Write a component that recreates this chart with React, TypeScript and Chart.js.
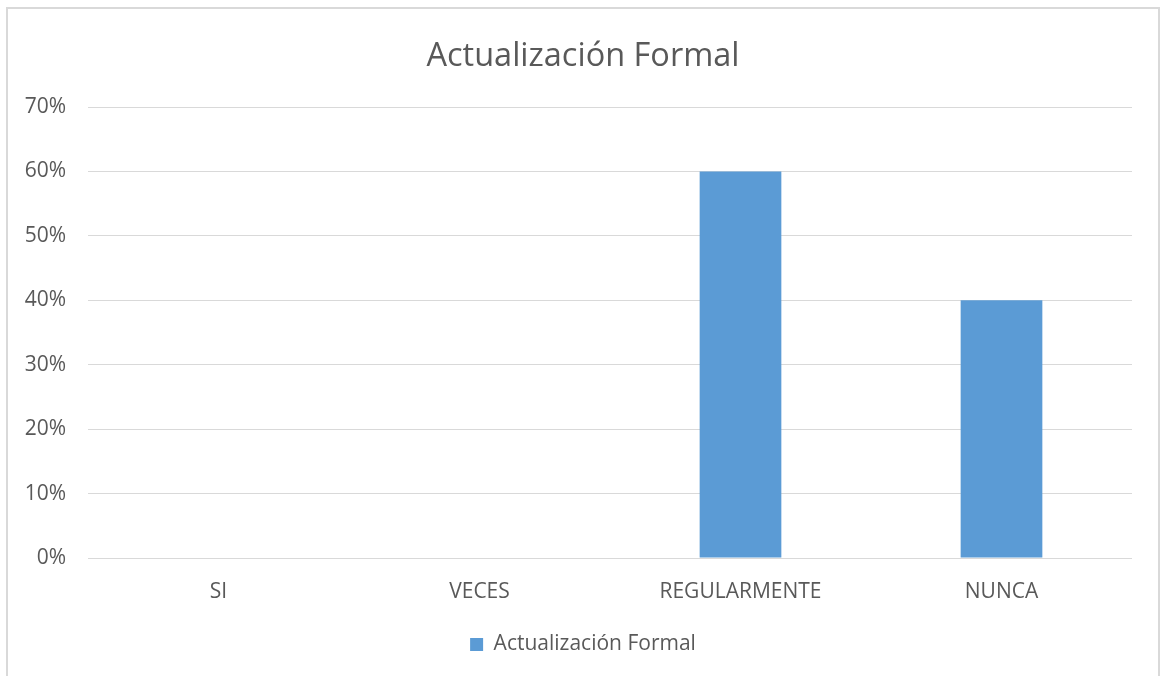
import React, { useEffect, useRef } from "react";
import { Chart, registerables } from "chart.js";

Chart.register(...registerables);

const categories = ["SI", "VECES", "REGULARMENTE", "NUNCA"];
const seriesName = "Actualización Formal";
const values = [0, 0, 0.6, 0.4];
const titleText = "Actualización Formal";

const TEXT = "#595959";
const GRID = "#d9d9d9";
const BAR = "#5B9BD5";
const FONT = "'Open Sans', sans-serif";

export default function App() {
  const ref = useRef<HTMLCanvasElement | null>(null);

  useEffect(() => {
    if (!ref.current) return;
    const chart = new Chart(ref.current, {
      type: "bar",
      data: {
        labels: categories,
        datasets: [
          {
            label: seriesName,
            data: values,
            backgroundColor: BAR,
            borderWidth: 0,
            categoryPercentage: 1,
            barPercentage: 0.313,
          },
        ],
      },
      options: {
        responsive: false,
        animation: false,
        maintainAspectRatio: false,
        layout: { padding: { left: 0, right: 0, top: 0, bottom: 11 } },
        plugins: {
          title: {
            display: true,
            text: titleText,
            color: TEXT,
            font: { family: FONT, size: 32.5, weight: "normal" },
            padding: { top: 28, bottom: 31 },
          },
          legend: {
            display: true,
            position: "bottom",
            labels: {
              color: TEXT,
              font: { family: FONT, size: 21 },
              boxWidth: 13,
              boxHeight: 13,
              padding: 10,
            },
          },
          tooltip: { enabled: false },
        },
        scales: {
          x: {
            grid: { display: false, drawTicks: false },
            border: { display: false },
            ticks: {
              color: TEXT,
              font: { family: FONT, size: 21 },
              padding: 21,
              maxRotation: 0,
            },
            afterFit: (s: any) => {
              s.height = 66;
            },
          },
          y: {
            min: 0,
            max: 0.7,
            grid: { color: GRID, lineWidth: 1, drawTicks: false },
            border: { display: false },
            ticks: {
              stepSize: 0.1,
              color: TEXT,
              font: { family: FONT, size: 21 },
              padding: 22,
              callback: (v: any) => Math.round(Number(v) * 100) + "%",
            },
            afterFit: (s: any) => {
              s.width = 80;
            },
          },
          yRight: {
            position: "right",
            display: true,
            grid: { display: false, drawTicks: false },
            border: { display: false },
            ticks: { display: false },
            afterFit: (s: any) => {
              s.width = 26;
            },
          },
        },
      },
    });
    return () => chart.destroy();
  }, []);

  return (
    <div
      style={{
        position: "absolute",
        left: 6,
        top: 7,
        width: 1150,
        height: 667,
        border: "2px solid " + GRID,
        borderBottom: "none",
        background: "#fff",
      }}
    >
      <canvas ref={ref} width={1150} height={667} style={{ display: "block", width: 1150, height: 667 }} />
    </div>
  );
}
